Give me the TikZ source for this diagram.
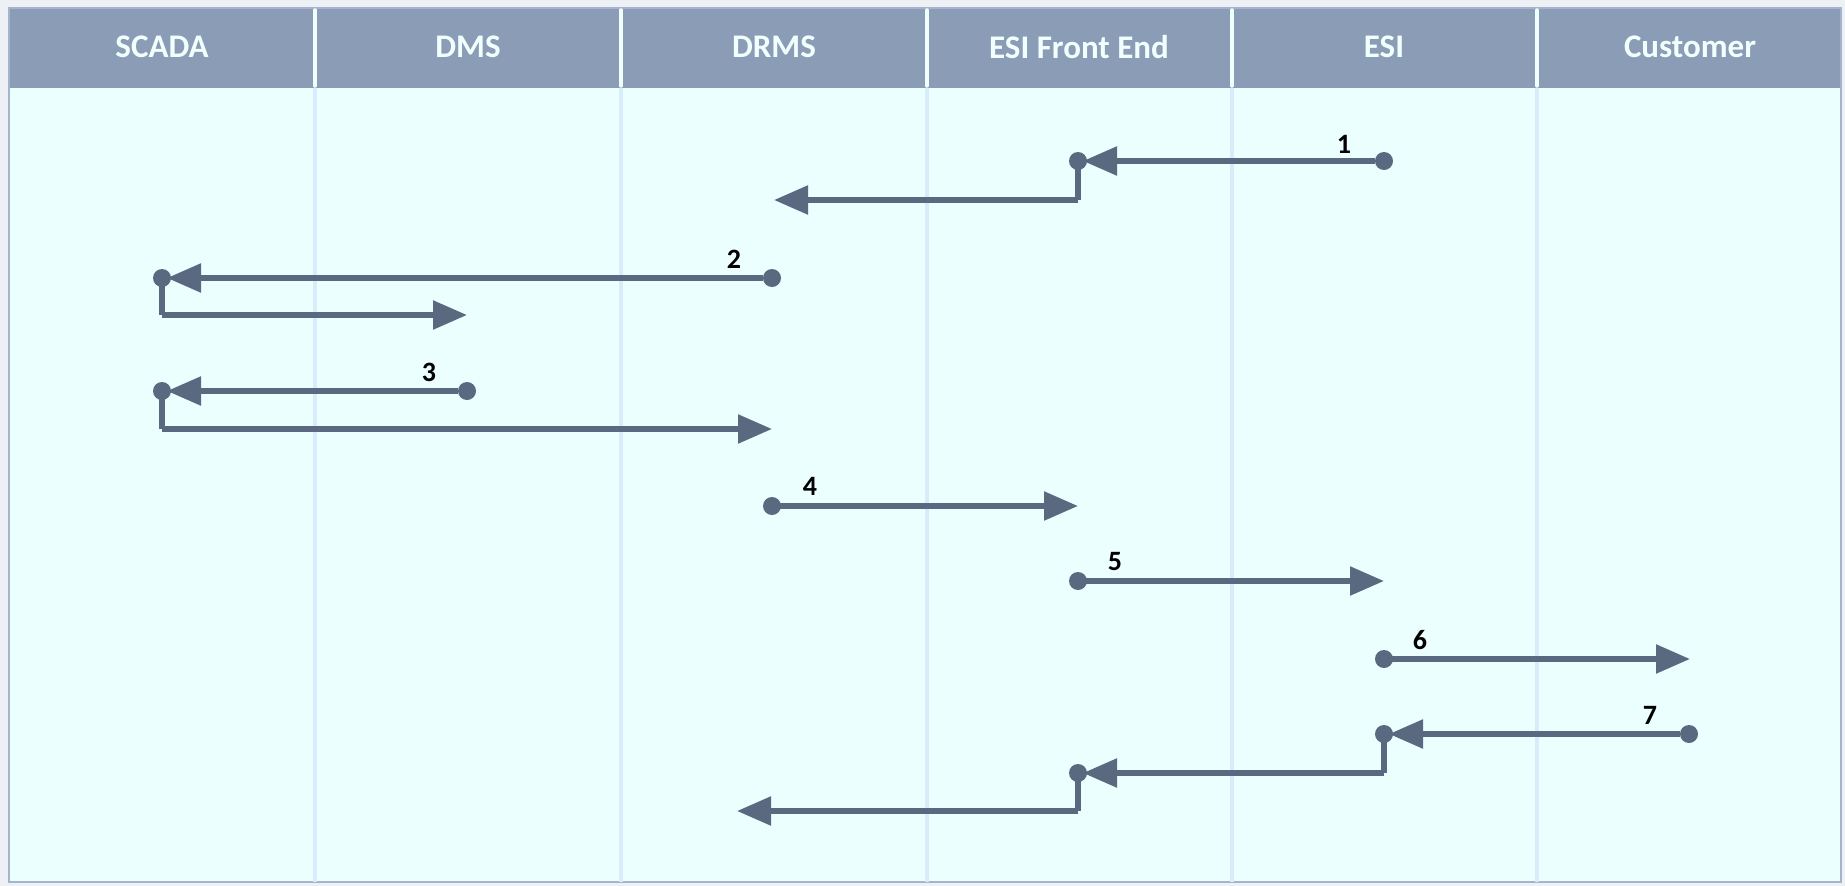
\documentclass[tikz,border=0pt]{standalone}
\usepackage{fontspec}
\setmainfont{Carlito}
\usetikzlibrary{arrows.meta}
\definecolor{hdr}{HTML}{8A9CB6}
\definecolor{body}{HTML}{EBFFFF}
\definecolor{sepb}{HTML}{D8ECFC}
\definecolor{ln}{HTML}{5A6980}
\definecolor{bg}{HTML}{EDF0F5}
\definecolor{frm}{HTML}{A4B4CC}
\definecolor{htxt}{HTML}{F2FFFF}
\tikzset{
  msg/.style={draw=ln, line width=5.5pt, -{Triangle[length=34pt,width=28pt]}},
  link/.style={draw=ln, line width=5.5pt, line join=miter},
  dot/.style={circle, fill=ln, inner sep=0pt, minimum size=18pt},
  num/.style={font=\bfseries\fontsize{28}{28}\selectfont, text=black, inner sep=0pt},
  head/.style={font=\bfseries\fontsize{33}{33}\selectfont, text=htxt, inner sep=0pt},
}
\begin{document}
\begin{tikzpicture}[x=1pt,y=-1pt]
\useasboundingbox (0,0) rectangle (1845,886);
\fill[bg] (0,0) rectangle (1845,886);
% body and header
\fill[body] (9,88) rectangle (1841,882);
\fill[hdr] (9,8) rectangle (1841,88);
\draw[frm, line width=2pt] (9,8) rectangle (1841,882);
% separators
\foreach \x in {315,621,927,1232,1537}{
  \draw[sepb, line width=4pt] (\x,88) -- (\x,882);
  \draw[htxt, line width=3.5pt, line cap=round] (\x,10) -- (\x,86);
}
% headers
\node[head] (hSCADA) at (162,47) {SCADA};
\node[head] (hDMS) at (468,47) {DMS};
\node[head] (hDRMS) at (774,47) {DRMS};
\node[head] (hFE) at (1079,47) {ESI Front End};
\node[head] (hESI) at (1384,47) {ESI};
\node[head] (hCust) at (1690,47) {Customer};

% ---- step 1
\node[dot] (s1) at (1384,161) {};
\node[dot] (j1) at (1078,161) {};
\coordinate (k1) at (1078,200);
\coordinate (e1) at (774,200);
\draw[msg, shorten >=5pt] (s1) -- (j1.center);
\draw[link] (j1.center) -- (k1);
\draw[msg] (k1) -- (e1);
\node[num] (n1) at (1344,144) {1};

% ---- step 2
\node[dot] (s2) at (772,278) {};
\node[dot] (j2) at (162,278) {};
\coordinate (k2) at (162,315);
\coordinate (e2) at (467,315);
\draw[msg, shorten >=5pt] (s2) -- (j2.center);
\draw[link] (j2.center) -- (k2);
\draw[msg] (k2) -- (e2);
\node[num] (n2) at (734,259) {2};

% ---- step 3
\node[dot] (s3) at (467,391) {};
\node[dot] (j3) at (162,391) {};
\coordinate (k3) at (162,429);
\coordinate (e3) at (772,429);
\draw[msg, shorten >=5pt] (s3) -- (j3.center);
\draw[link] (j3.center) -- (k3);
\draw[msg] (k3) -- (e3);
\node[num] (n3) at (429,372) {3};

% ---- step 4
\node[dot] (s4) at (772,506) {};
\coordinate (e4) at (1078,506);
\draw[msg] (s4.center) -- (e4);
\node[num] (n4) at (810,486) {4};

% ---- step 5
\node[dot] (s5) at (1078,581) {};
\coordinate (e5) at (1384,581);
\draw[msg] (s5.center) -- (e5);
\node[num] (n5) at (1115,562) {5};

% ---- step 6
\node[dot] (s6) at (1384,659) {};
\coordinate (e6) at (1690,659);
\draw[msg] (s6.center) -- (e6);
\node[num] (n6) at (1420,640) {6};

% ---- step 7
\node[dot] (s7) at (1689,734) {};
\node[dot] (j7) at (1384,734) {};
\coordinate (k7) at (1384,773);
\node[dot] (j8) at (1078,773) {};
\coordinate (k8) at (1078,811);
\coordinate (e7) at (737,811);
\draw[msg, shorten >=5pt] (s7) -- (j7.center);
\draw[link] (j7.center) -- (k7);
\draw[msg, shorten >=5pt] (k7) -- (j8.center);
\draw[link] (j8.center) -- (k8);
\draw[msg] (k8) -- (e7);
\node[num] (n7) at (1650,715) {7};
\end{tikzpicture}
\end{document}
